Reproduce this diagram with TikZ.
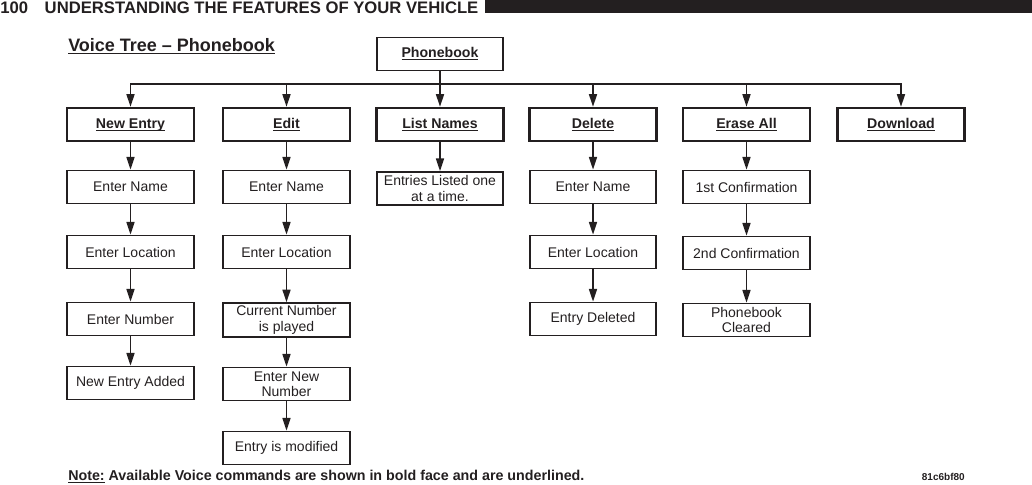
\documentclass[tikz,border=0pt]{standalone}
\usepackage{fontspec}
\setmainfont{Liberation Sans}
\usetikzlibrary{arrows.meta}
\definecolor{my_black}{HTML}{231F20}
\newcommand{\myul}[1]{\underline{\raisebox{0pt}[\height][0pt]{#1}}}

\begin{document}
\begin{tikzpicture}[
    x=0.75pt, y=-0.75pt,
    box/.style={draw=my_black, line width=1.3pt, minimum width=95pt,
        minimum height=24.75pt, inner sep=2pt, align=center, text=my_black,
        font=\fontsize{10.5}{11.5}\selectfont},
    topbox/.style={box, line width=1.8pt,
        font=\fontsize{10.6}{11.5}\selectfont\bfseries},
    link/.style={draw=my_black, line width=1.2pt},
    flow/.style={link, -{Triangle[length=9.5pt, width=6pt]}}
]
\useasboundingbox (0,0) rectangle (1032,485);

% ----------------------------------------------------------
% Page header and title
% ----------------------------------------------------------
\fill[my_black] (485,0) rectangle (1032,13);
\node[anchor=west, inner sep=0, text=my_black,
    font=\fontsize{12.5}{14}\selectfont\bfseries] (head) at (0,8)
    {100\quad UNDERSTANDING THE FEATURES OF YOUR VEHICLE};
\node[anchor=west, inner sep=0, text=my_black,
    font=\fontsize{13.5}{15}\selectfont\bfseries] (title) at (68,46)
    {\myul{Voice Tree -- Phonebook}};

% ----------------------------------------------------------
% Root and first level (voice commands)
% ----------------------------------------------------------
\node[topbox, line width=1.4pt] (pb) at (440,54) {\myul{Phonebook}};

\node[topbox] (ne) at (130.5,124.5) {\myul{New Entry}};
\node[topbox] (ed) at (286.5,124.5) {\myul{Edit}};
\node[topbox] (ln) at (440,124.5)   {\myul{List Names}};
\node[topbox] (de) at (593,124.5)   {\myul{Delete}};
\node[topbox] (ea) at (746.5,124.5) {\myul{Erase All}};
\node[topbox] (dl) at (901,124.5)   {\myul{Download}};

\coordinate (bar) at (440,84);
\draw[link] (pb) -- (bar);
\foreach \cmd in {ne, ed, ln, de, ea, dl} {
    \draw[flow] (bar) -| (\cmd);
}

% ----------------------------------------------------------
% New Entry
% ----------------------------------------------------------
\node[box] (ne1) at (130.5,187) {Enter Name};
\node[box] (ne2) at (130.5,252) {Enter Location};
\node[box] (ne3) at (130.5,319) {Enter Number};
\node[box] (ne4) at (130.5,383) {New Entry Added};

% ----------------------------------------------------------
% Edit
% ----------------------------------------------------------
\node[box] (ed1) at (286.5,187) {Enter Name};
\node[box] (ed2) at (286.5,252) {Enter Location};
\node[box] (ed3) at (286.5,320) {Current Number\\is played};
\node[box] (ed4) at (286.5,384) {Enter New\\Number};
\node[box] (ed5) at (286.5,448) {Entry is modified};

% ----------------------------------------------------------
% List Names
% ----------------------------------------------------------
\node[box] (ln1) at (440,188.5) {Entries Listed one\\at a time.};

% ----------------------------------------------------------
% Delete
% ----------------------------------------------------------
\node[box] (de1) at (593,187) {Enter Name};
\node[box] (de2) at (593,252) {Enter Location};
\node[box] (de3) at (593,319) {Entry Deleted};

% ----------------------------------------------------------
% Erase All
% ----------------------------------------------------------
\node[box] (ea1) at (746.5,187) {1st Confirmation};
\node[box] (ea2) at (746.5,253) {2nd Confirmation};
\node[box] (ea3) at (746.5,320) {Phonebook\\Cleared};

% arrows down each column
\foreach \a/\b in {ne/ne1, ne1/ne2, ne2/ne3, ne3/ne4,
                   ed/ed1, ed1/ed2, ed2/ed3, ed3/ed4, ed4/ed5,
                   ln/ln1,
                   de/de1, de1/de2, de2/de3,
                   ea/ea1, ea1/ea2, ea2/ea3} {
    \draw[flow] (\a) -- (\b);
}

% ----------------------------------------------------------
% Footnote
% ----------------------------------------------------------
\node[anchor=west, inner sep=0, text=my_black,
    font=\fontsize{10.7}{12}\selectfont\bfseries] (note) at (68,477)
    {\myul{Note:} Available Voice commands are shown in bold face and are underlined.};
\node[anchor=east, inner sep=0, text=my_black,
    font=\fontsize{7.5}{9}\selectfont\bfseries] (code) at (965,477) {81c6bf80};

\end{tikzpicture}
\end{document}
